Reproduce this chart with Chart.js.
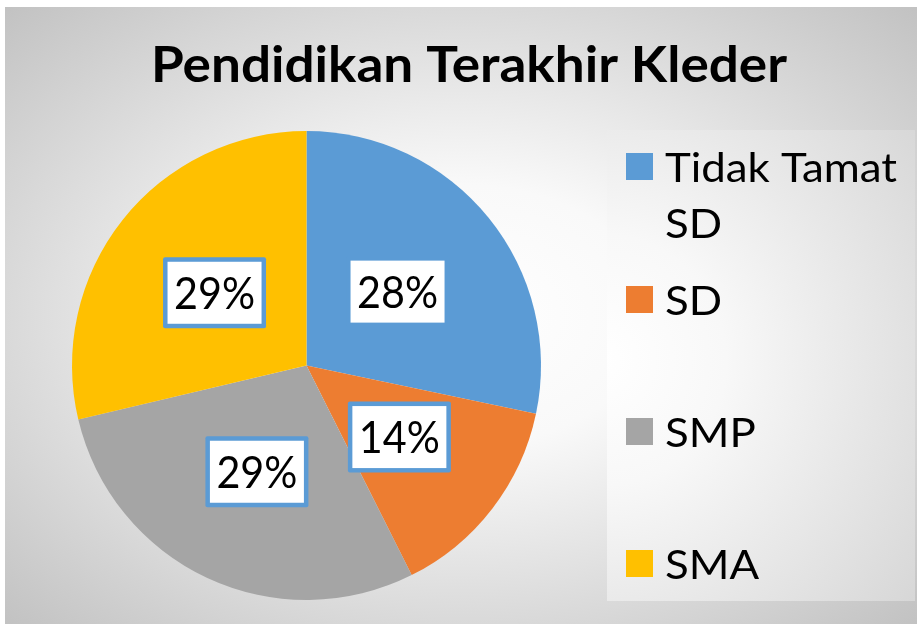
<!DOCTYPE html>
<html>
<head>
<meta charset="utf-8">
<script src="https://cdn.jsdelivr.net/npm/chart.js@4/dist/chart.umd.min.js"></script>
<style>
  html, body { margin: 0; padding: 0; background: #ffffff; }
  #wrap { width: 917px; height: 625px; }
</style>
</head>
<body>
<div id="wrap"><canvas id="c" width="917" height="625"></canvas></div>
<script>
// ---- data ----
const chartTitle = 'Pendidikan Terakhir Kleder';
const categories = ['Tidak Tamat SD', 'SD', 'SMP', 'SMA'];
const legendLines = [['Tidak Tamat', 'SD'], ['SD'], ['SMP'], ['SMA']];
const values = [28.3, 14.3, 28.7, 28.7];
const sliceColors = ['#5B9BD5', '#ED7D31', '#A5A5A5', '#FFC000'];

const FONT = 'Lato, "Open Sans", "DejaVu Sans", sans-serif';

function fitText(ctx, text, x, y, font, targetWidth, align) {
  ctx.save();
  ctx.font = font;
  const w = ctx.measureText(text).width;
  const sx = targetWidth ? targetWidth / w : 1;
  ctx.translate(x, y);
  ctx.scale(sx, 1);
  ctx.textAlign = align || 'left';
  ctx.textBaseline = 'alphabetic';
  ctx.fillText(text, 0, 0);
  ctx.restore();
  return w * sx;
}

const decorPlugin = {
  id: 'decor',
  beforeDraw(chart) {
    const ctx = chart.ctx;
    ctx.save();
    ctx.fillStyle = '#ffffff';
    ctx.fillRect(0, 0, chart.width, chart.height);
    const fx = 5, fy = 7, fw = 912, fh = 617;
    const cx = fx + fw / 2, cy = fy + fh / 2;
    ctx.save();
    ctx.beginPath();
    ctx.rect(fx, fy, fw, fh);
    ctx.clip();
    ctx.translate(cx, cy);
    ctx.scale(1, fh / fw);
    const R = fw / 2 * Math.SQRT2;
    const g = ctx.createRadialGradient(0, 0, 0, 0, 0, R);
    g.addColorStop(0, '#ffffff');
    g.addColorStop(0.3, '#f9f9f9');
    g.addColorStop(1, '#c2c2c2');
    ctx.fillStyle = g;
    ctx.fillRect(-fw, -fw, fw * 2, fw * 2);
    ctx.restore();
    const lx = 607, ly = 130, lw = 308, lh = 471;
    const g2 = ctx.createRadialGradient(600, 360, 0, 600, 360, 420);
    g2.addColorStop(0, '#ffffff');
    g2.addColorStop(0.3, '#f8f8f8');
    g2.addColorStop(1, '#d4d4d4');
    ctx.fillStyle = g2;
    ctx.fillRect(lx, ly, lw, lh);
    ctx.restore();
  },
  afterDatasetsDraw(chart) {
    const ctx = chart.ctx;
    const meta = chart.getDatasetMeta(0);
    const data = chart.data.datasets[0].data;
    const total = data.reduce((a, b) => a + b, 0);
    ctx.save();
    meta.data.forEach((arc, i) => {
      const p = arc.tooltipPosition();
      const bw = 103, bh = 71, b = 4.5;
      ctx.fillStyle = '#5B9BD5';
      ctx.beginPath();
      ctx.roundRect(p.x - bw / 2, p.y - bh / 2, bw, bh, 2);
      ctx.fill();
      ctx.fillStyle = '#ffffff';
      ctx.fillRect(p.x - bw / 2 + b, p.y - bh / 2 + b, bw - 2 * b, bh - 2 * b);
      ctx.fillStyle = '#000000';
      const txt = Math.round(data[i] / total * 100) + '%';
      fitText(ctx, txt, p.x, p.y + 16, '45px ' + FONT, 81, 'center');
    });
    ctx.restore();
  },
  afterDraw(chart) {
    const ctx = chart.ctx;
    ctx.save();
    ctx.fillStyle = '#000000';
    fitText(ctx, chartTitle, 469, 82, 'bold 49px ' + FONT, 636, 'center');
    const colors = chart.data.datasets[0].backgroundColor;
    const tops = [153, 286, 418, 550];
    ctx.font = '41px ' + FONT;
    const refW = ctx.measureText('Tidak Tamat').width;
    const sx = 232 / refW;
    chart.data.labels.forEach((lab, i) => {
      const t = tops[i];
      ctx.fillStyle = colors[i];
      ctx.fillRect(626, t, 27, 27);
      ctx.fillStyle = '#000000';
      legendLines[i].forEach((line, k) => {
        ctx.save();
        ctx.font = '41px ' + FONT;
        ctx.translate(665, t + 29 + k * 56);
        ctx.scale(sx, 1);
        ctx.textBaseline = 'alphabetic';
        ctx.fillText(line, 0, 0);
        ctx.restore();
      });
    });
    ctx.restore();
  }
};

new Chart(document.getElementById('c'), {
  type: 'pie',
  data: {
    labels: categories,
    datasets: [{
      data: values,
      backgroundColor: sliceColors,
      borderWidth: 0,
      hoverOffset: 0,
      offset: 0
    }]
  },
  options: {
    responsive: false,
    animation: false,
    layout: { padding: { left: 72, top: 131, right: 376, bottom: 25 } },
    plugins: {
      legend: { display: false },
      title: { display: false },
      tooltip: { enabled: false }
    },
    events: []
  },
  plugins: [decorPlugin]
});
</script>
</body>
</html>
